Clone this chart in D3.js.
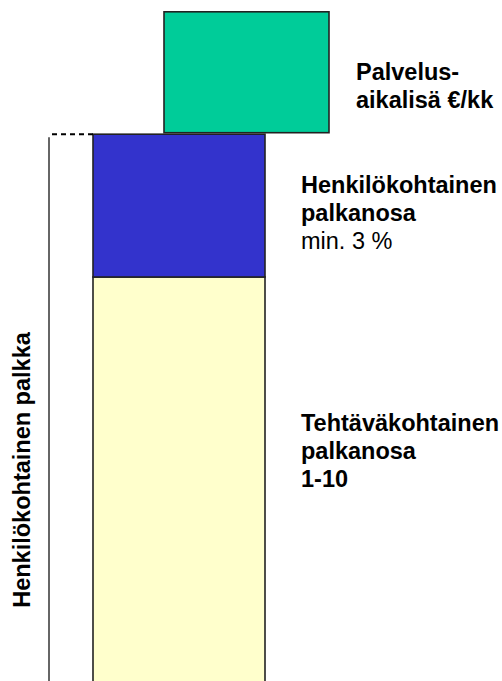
<!DOCTYPE html>
<html>
<head>
<meta charset="utf-8">
<script src="https://cdn.jsdelivr.net/npm/d3@7"></script>
<style>
  body { margin: 0; background: #fff; }
  svg { display: block; font-family: "Liberation Sans", Arial, sans-serif; }
</style>
</head>
<body>
<div id="vis-container"></div>
<script>
// palkan osat (suhteelliset korkeudet kuvasta arvioituna)
var parts = ["Tehtäväkohtainen palkanosa", "Henkilökohtainen palkanosa", "Palvelusaikalisä"];
var values = [100, 35, 30];
var colors = ["#FFFFCC", "#3333CC", "#00CC99"];

// tekstit jokaisen osan viereen
var labels = [
  [{ t: "Tehtäväkohtainen", b: true }, { t: "palkanosa", b: true }, { t: "1-10", b: true }],
  [{ t: "Henkilökohtainen", b: true }, { t: "palkanosa", b: true }, { t: "min. 3 %", b: false }],
  [{ t: "Palvelus-", b: true }, { t: "aikalisä €/kk", b: true }]
];
var axisTitle = "Henkilökohtainen palkka";

var width = 502, height = 681;

var svg = d3.select("#vis-container").append("svg")
  .attr("width", width)
  .attr("height", height);

// alareuna jatkuu kuvan ulkopuolelle
var y = d3.scaleLinear().domain([0, 100]).range([685, 277]);

// kumulatiiviset alku/loppu arvot
var segs = [];
var acc = 0;
values.forEach(function (v, i) {
  segs.push({ name: parts[i], y0: acc, y1: acc + v, i: i });
  acc += v;
});

var barX = 93, barW = 172;
var extraX = 164, extraW = 165; // palvelusaikalisä on siirretty oikealle

svg.selectAll("rect.seg")
  .data(segs)
  .enter()
  .append("rect")
  .attr("class", "seg")
  .attr("x", function (d) { return d.i == 2 ? extraX : barX; })
  .attr("width", function (d) { return d.i == 2 ? extraW : barW; })
  .attr("y", function (d) { return y(d.y1); })
  .attr("height", function (d) { return d.i == 2 ? y(d.y0) - y(d.y1) - 1.5 : y(d.y0) - y(d.y1); })
  .attr("fill", function (d) { return colors[d.i]; })
  .attr("stroke", "#222")
  .attr("stroke-width", 1.6);

// henkilökohtaisen palkan jana vasemmalla
var personalTop = y(values[0] + values[1]);
svg.append("line")
  .attr("x1", 49).attr("x2", 49)
  .attr("y1", personalTop + 3).attr("y2", height + 5)
  .attr("stroke", "#333")
  .attr("stroke-width", 1.5);

svg.append("line")
  .attr("x1", 52).attr("x2", barX)
  .attr("y1", personalTop).attr("y2", personalTop)
  .attr("stroke", "#000")
  .attr("stroke-width", 2)
  .attr("stroke-dasharray", "5,4");

svg.append("text")
  .attr("transform", "translate(30," + 470 + ") rotate(-90)")
  .attr("text-anchor", "middle")
  .attr("font-size", 23.5)
  .style("font-weight", "bold")
  .text(axisTitle);

// tekstien paikat
var labelPos = [
  { x: 301, y: 431 },
  { x: 301, y: 193 },
  { x: 356, y: 80 }
];

labels.forEach(function (lines, i) {
  var txt = svg.append("text")
    .attr("x", labelPos[i].x)
    .attr("y", labelPos[i].y)
    .attr("font-size", 23.5);
  lines.forEach(function (l, j) {
    txt.append("tspan")
      .attr("x", labelPos[i].x)
      .attr("dy", j == 0 ? 0 : (i == 2 ? 27.5 : 28))
      .style("font-weight", l.b ? "bold" : "normal")
      .text(l.t);
  });
});
</script>
</body>
</html>
